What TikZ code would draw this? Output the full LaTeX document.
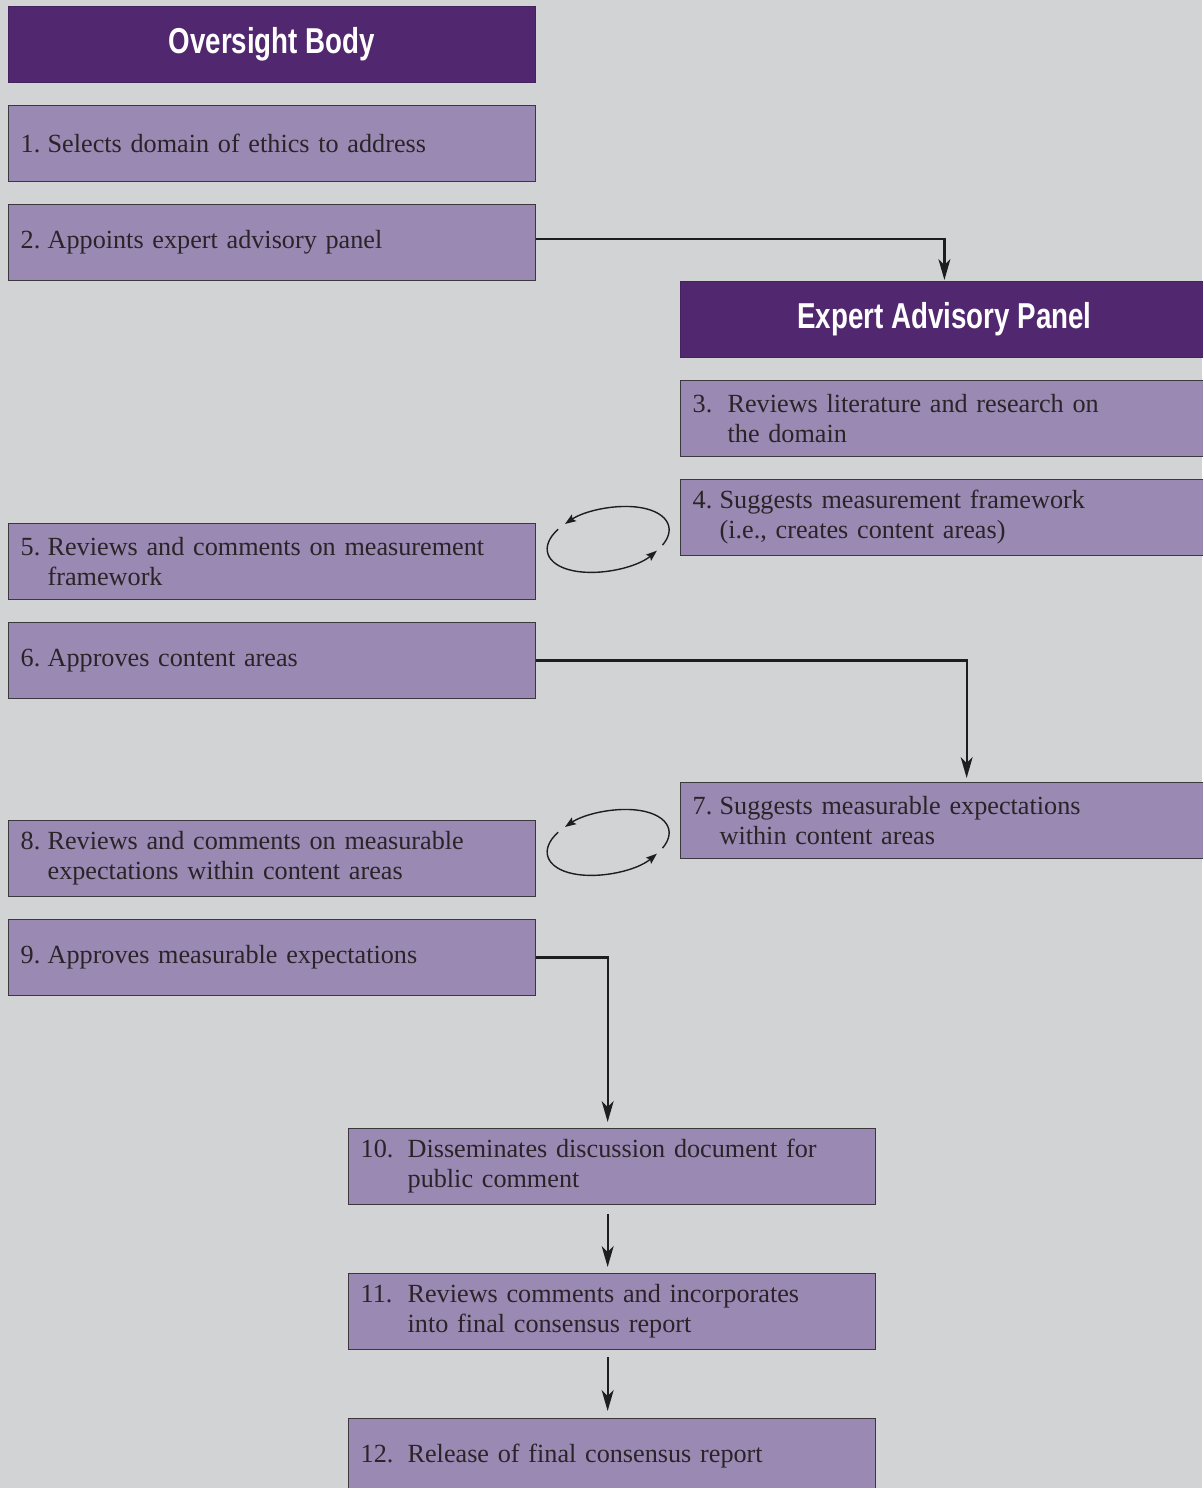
\documentclass[tikz,border=0pt]{standalone}
\usepackage{fontspec}
\setmainfont{Liberation Serif}
\newfontfamily\headfont{Liberation Sans}
\usetikzlibrary{arrows.meta,calc}
\definecolor{bgcol}{HTML}{D1D3D5}
\definecolor{headfill}{HTML}{51276F}
\definecolor{boxfill}{HTML}{9A89B3}
\definecolor{boxline}{HTML}{3A383C}
\definecolor{textcol}{HTML}{2A2428}
\definecolor{linecol}{HTML}{1E1E1E}
\newcommand\numlab[2]{\makebox[#1][l]{#2}}
\newcommand\headtext[1]{{\headfont\bfseries\fontsize{36}{38}\selectfont\scalebox{0.77}[1]{#1}}}
\tikzset{
  box/.style={draw=boxline, line width=1.3pt, fill=boxfill, anchor=north west,
    text width=503pt, inner xsep=12pt, inner ysep=0pt, minimum height=75.5pt,
    align=left, text=textcol, font=\fontsize{26.2}{30}\selectfont},
  head/.style={draw=headfill!85!black, line width=0.8pt, fill=headfill, anchor=north west,
    minimum width=527pt, minimum height=76pt, inner sep=0pt, text=white},
  conn/.style={draw=linecol, line width=2.2pt, -{Stealth[length=21pt,width=12pt,inset=6pt]}},
  cyc/.style={draw=linecol, line width=1.4pt, -{Stealth[length=11pt,width=8pt,inset=2pt]}}
}
\begin{document}
\begin{tikzpicture}[x=1pt,y=-1pt]
\fill[bgcol] (0,0) rectangle (1202,1488);
\useasboundingbox (0,0) rectangle (1202,1488);

% Oversight Body column
\node[head] (ob) at (8,6) {\headtext{Oversight Body}};
\node[box] (b1) at (8,105) {\numlab{27pt}{1.}Selects domain of ethics to address};
\node[box] (b2) at (8,204) {\numlab{27pt}{2.}Appoints expert advisory panel};
\node[box] (b5) at (8,523) {\numlab{27pt}{5.}Reviews and comments on measurement\\\hspace*{27pt}framework};
\node[box] (b6) at (8,622) {\numlab{27pt}{6.}Approves content areas};
\node[box] (b8) at (8,820) {\numlab{27pt}{8.}Reviews and comments on measurable\\\hspace*{27pt}expectations within content areas};
\node[box] (b9) at (8,919) {\numlab{27pt}{9.}Approves measurable expectations};

% Expert Advisory Panel column
\node[head, minimum width=528pt] (ep) at (680,281) {\headtext{Expert Advisory Panel}};
\node[box, text width=504pt] (b3) at (680,380) {\numlab{35pt}{3.}Reviews literature and research on\\\hspace*{35pt}the domain};
\node[box, text width=504pt] (b4) at (680,479) {\numlab{27pt}{4.}Suggests measurement framework\\\hspace*{27pt}(i.e., creates content areas)};
\node[box, text width=504pt] (b7) at (680,782) {\numlab{27pt}{7.}Suggests measurable expectations\\\hspace*{27pt}within content areas};

% Final steps
\node[box] (b10) at (348,1128) {\numlab{47pt}{10.}Disseminates discussion document for\\\hspace*{47pt}public comment};
\node[box] (b11) at (348,1273) {\numlab{47pt}{11.}Reviews comments and incorporates\\\hspace*{47pt}into final consensus report};
\node[box] (b12) at (348,1418) {\numlab{47pt}{12.}Release of final consensus report};

% Connectors
\draw[conn, shorten >=1pt] ([yshift=3.75pt]b2.east) -| (ep.north);
\draw[conn, shorten >=4pt] (b6.east) -| ([xshift=22pt]b7.north);
\draw[conn, shorten >=6pt] (b9.east) -| ([xshift=-4.5pt]b10.north);
\draw[conn, shorten <=9pt, shorten >=6pt] ([xshift=-4.5pt]b10.south) -- ([xshift=-4.5pt]b11.north);
\draw[conn, shorten <=7.5pt, shorten >=7pt] ([xshift=-4.5pt]b11.south) -- ([xshift=-4.5pt]b12.north);

% Review loops
\coordinate (l1) at ($(b5.east)!0.5!(b4.west)$);
\coordinate (l2) at ($(b8.east)!0.5!(b7.west)+(0,3)$);
\foreach \c in {l1,l2}{
  \begin{scope}[shift={(\c)}, rotate=12]
    \draw[cyc] (33:62 and 31) arc[start angle=33, end angle=-129, x radius=62, y radius=31];
    \draw[cyc] (221:62 and 31) arc[start angle=221, end angle=43, x radius=62, y radius=31];
  \end{scope}
}
\end{tikzpicture}
\end{document}
